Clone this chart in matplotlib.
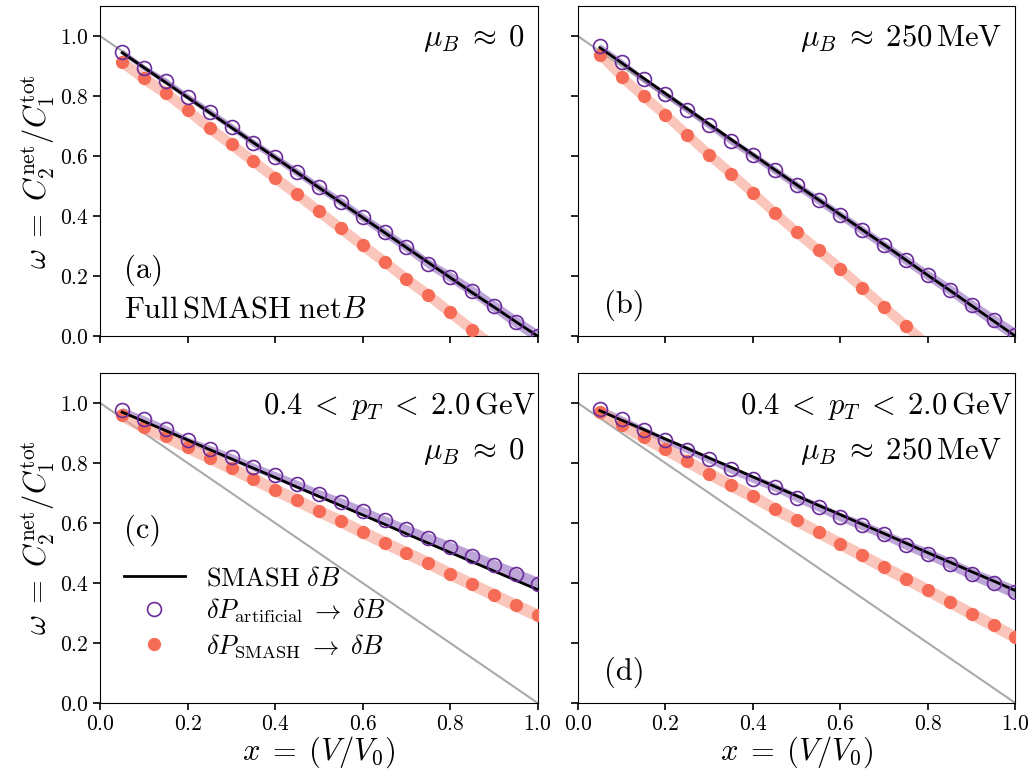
import numpy as np
import matplotlib
matplotlib.use('Agg')
import matplotlib.pyplot as plt

plt.rcParams['font.family'] = 'serif'
plt.rcParams['font.serif'] = ['cmr10']
plt.rcParams['mathtext.fontset'] = 'cm'
plt.rcParams['axes.formatter.use_mathtext'] = True

# Datos: volumen relativo x = V/V0
x = [0.05, 0.10, 0.15, 0.20, 0.25, 0.30, 0.35, 0.40, 0.45, 0.50,
     0.55, 0.60, 0.65, 0.70, 0.75, 0.80, 0.85, 0.90, 0.95, 1.00]
ideal_x = [0.0, 1.0]
ideal_y = [1.0, 0.0]

# (a) Full SMASH, muB ~ 0
smash_a = [0.945, 0.895, 0.845, 0.795, 0.745, 0.695, 0.645, 0.595, 0.545, 0.495,
           0.445, 0.395, 0.345, 0.295, 0.245, 0.195, 0.145, 0.097, 0.048, 0.0]
artif_a = [0.948, 0.894, 0.850, 0.798, 0.748, 0.698, 0.644, 0.596, 0.546, 0.496,
           0.448, 0.396, 0.346, 0.296, 0.242, 0.198, 0.151, 0.100, 0.048, 0.0]
psmash_a = [0.914, 0.859, 0.811, 0.753, 0.694, 0.639, 0.583, 0.528, 0.473, 0.416,
            0.359, 0.303, 0.248, 0.190, 0.137, 0.079, 0.022, -0.035, -0.090, -0.145]

# (b) Full SMASH, muB ~ 250 MeV
smash_b = [0.962, 0.911, 0.860, 0.809, 0.758, 0.707, 0.656, 0.606, 0.555, 0.505,
           0.455, 0.405, 0.355, 0.305, 0.254, 0.203, 0.153, 0.102, 0.051, 0.0]
artif_b = [0.966, 0.914, 0.856, 0.806, 0.755, 0.703, 0.651, 0.603, 0.553, 0.503,
           0.453, 0.403, 0.353, 0.303, 0.253, 0.203, 0.155, 0.103, 0.053, 0.005]
psmash_b = [0.939, 0.864, 0.800, 0.738, 0.671, 0.605, 0.542, 0.478, 0.411, 0.347,
            0.286, 0.225, 0.161, 0.097, 0.034, -0.030, -0.095, -0.160, -0.225, -0.290]

# (c) corte en pT, muB ~ 0
smash_c = [0.970, 0.939, 0.908, 0.877, 0.845, 0.814, 0.783, 0.752, 0.720, 0.689,
           0.658, 0.627, 0.596, 0.564, 0.533, 0.502, 0.471, 0.440, 0.409, 0.378]
artif_c = [0.976, 0.948, 0.915, 0.876, 0.848, 0.820, 0.787, 0.759, 0.729, 0.698,
           0.670, 0.640, 0.609, 0.579, 0.550, 0.520, 0.490, 0.459, 0.429, 0.398]
psmash_c = [0.959, 0.920, 0.889, 0.853, 0.818, 0.783, 0.748, 0.711, 0.676, 0.640,
            0.606, 0.570, 0.535, 0.501, 0.467, 0.431, 0.396, 0.361, 0.326, 0.292]

# (d) corte en pT, muB ~ 250 MeV
smash_d = [0.975, 0.943, 0.912, 0.880, 0.849, 0.817, 0.786, 0.754, 0.722, 0.691,
           0.659, 0.628, 0.596, 0.565, 0.533, 0.501, 0.470, 0.438, 0.407, 0.375]
artif_d = [0.981, 0.948, 0.911, 0.876, 0.845, 0.812, 0.779, 0.748, 0.720, 0.685,
           0.654, 0.621, 0.593, 0.562, 0.528, 0.498, 0.465, 0.431, 0.401, 0.370]
psmash_d = [0.972, 0.928, 0.887, 0.846, 0.806, 0.765, 0.726, 0.689, 0.648, 0.609,
            0.570, 0.531, 0.492, 0.453, 0.415, 0.376, 0.337, 0.298, 0.259, 0.220]

# incertidumbre (ancho de la banda)
artif_err = [0.010, 0.010, 0.011, 0.011, 0.012, 0.012, 0.013, 0.013, 0.014, 0.014,
             0.015, 0.015, 0.016, 0.016, 0.017, 0.018, 0.019, 0.020, 0.021, 0.022]
psmash_err = [0.022] * 20

panels = [
    (smash_a, artif_a, psmash_a, [r'$\mu_B\;\approx\;0$']),
    (smash_b, artif_b, psmash_b, [r'$\mu_B\;\approx\;250\,\mathrm{MeV}$']),
    (smash_c, artif_c, psmash_c, [r'$0.4\;<\;p_T\;<\;2.0\,\mathrm{GeV}$', r'$\mu_B\;\approx\;0$']),
    (smash_d, artif_d, psmash_d, [r'$0.4\;<\;p_T\;<\;2.0\,\mathrm{GeV}$', r'$\mu_B\;\approx\;250\,\mathrm{MeV}$']),
]

purple = '#6a2c9a'
red = '#f66b55'

fig, axs = plt.subplots(2, 2, figsize=(10.34, 7.76), dpi=100, sharex=True, sharey=True)
fig.subplots_adjust(left=0.097, right=0.982, top=0.992, bottom=0.094, wspace=0.092, hspace=0.112)

X = np.array(x)
for ax, (sm, ar, ps, labels) in zip(axs.flat, panels):
    ar = np.array(ar)
    ps = np.array(ps)
    ax.plot(ideal_x, ideal_y, color='#aaaaaa', lw=1.5, zorder=1)
    ax.fill_between(X, ar - np.array(artif_err), ar + np.array(artif_err),
                    color='#8a5cb8', alpha=0.55, lw=0, zorder=2)
    ax.fill_between(X, ps - np.array(psmash_err), ps + np.array(psmash_err),
                    color='#f7a090', alpha=0.6, lw=0, zorder=2)
    l1, = ax.plot(X, sm, color='black', lw=2, zorder=4, label=r'$\mathrm{SMASH}\ \delta B$')
    l2, = ax.plot(X, ar, 'o', mfc='none', mec=purple, mew=1.2, ms=10, zorder=5,
                  label=r'$\delta P_\mathrm{artificial}\;\rightarrow\;\delta B$')
    l3, = ax.plot(X, ps, 'o', color=red, ms=8.5, zorder=3,
                  label=r'$\delta P_\mathrm{SMASH}\;\rightarrow\;\delta B$')
    ax.set_xlim(0, 1)
    ax.set_ylim(0, 1.1)
    ax.set_xticks([0, 0.2, 0.4, 0.6, 0.8, 1.0])
    ax.set_yticks([0, 0.2, 0.4, 0.6, 0.8, 1.0])
    ax.tick_params(direction='out', length=5, width=1.2, labelsize=15.5)
    for i, t in enumerate(labels):
        ax.text(0.995 if len(labels) > 1 and i == 0 else 0.97, 0.95 - i * 0.14, t,
                transform=ax.transAxes, ha='right', va='top', fontsize=22)

axs[0, 0].text(0.055, 0.2, '(a)', transform=axs[0, 0].transAxes, fontsize=22, va='center')
axs[0, 0].text(0.055, 0.08, r'$\mathrm{Full\,SMASH\ net}B$', transform=axs[0, 0].transAxes,
               fontsize=22, va='center')
axs[0, 1].text(0.06, 0.094, '(b)', transform=axs[0, 1].transAxes, fontsize=22, va='center')
axs[1, 0].text(0.055, 0.524, '(c)', transform=axs[1, 0].transAxes, fontsize=22, va='center')
axs[1, 1].text(0.06, 0.094, '(d)', transform=axs[1, 1].transAxes, fontsize=22, va='center')

axs[1, 0].legend(handles=[l1, l2, l3], loc='lower left', bbox_to_anchor=(0.0, 0.06),
                 frameon=False, fontsize=19, handlelength=2.3, labelspacing=0.25)

for ax in axs[:, 0]:
    ax.set_ylabel(r'$\omega\;=\;C_2^\mathrm{net}/C_1^\mathrm{tot}$', fontsize=22, labelpad=2)
for ax in axs[1, :]:
    ax.set_xlabel(r'$x\;=\;(V/V_0)$', fontsize=22, labelpad=0)

plt.savefig('out.png', dpi=100)
